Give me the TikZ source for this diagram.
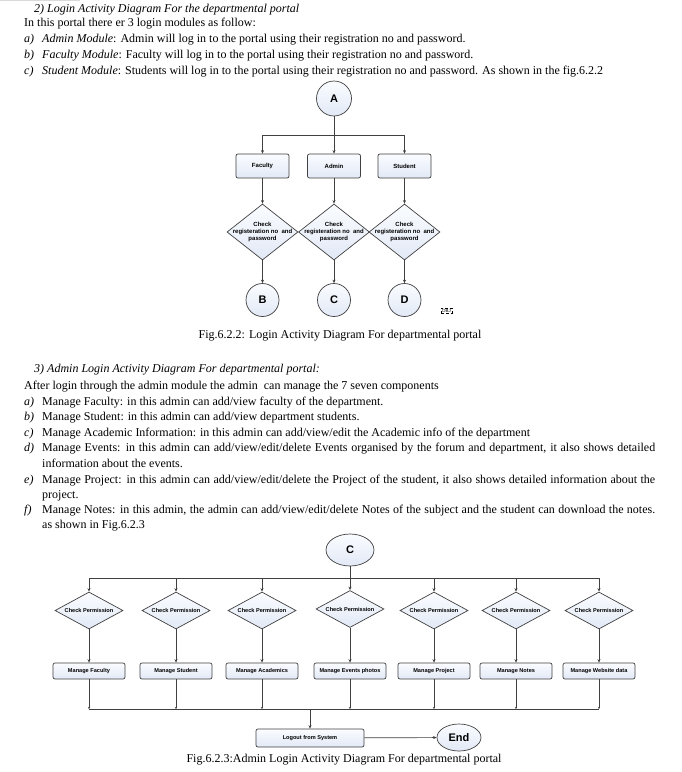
\documentclass[tikz,border=0pt]{standalone}
\usepackage{fontspec}
\setmainfont{Liberation Serif}
\newfontfamily\diafont{Liberation Sans}
\usetikzlibrary{shapes.geometric,arrows.meta}
\definecolor{lineC}{HTML}{404040}
\definecolor{fillC}{HTML}{E2E9F6}
\definecolor{fillT}{HTML}{FAFCFF}
\begin{document}
\begin{tikzpicture}[x=1pt,y=-1pt,
  txt/.style={anchor=base west, inner sep=0, font=\fontsize{12}{14}\selectfont},
  figcap/.style={anchor=base, inner sep=0, font=\fontsize{12}{14}\selectfont},
  conn/.style={draw=lineC, line width=0.7pt, -{Stealth[length=3.5pt,width=3pt]}},
  tconn/.style={draw=lineC, line width=0.7pt, -{Stealth[length=2pt,width=2pt]}},
  plain/.style={draw=lineC, line width=0.7pt},
  shade/.style={draw=lineC, line width=0.7pt, top color=fillT, bottom color=fillC},
  rbox/.style={shade, rounded corners=2pt, inner sep=0, align=center,
    font=\diafont\bfseries\fontsize{6}{7}\selectfont},
  circ/.style={shade, circle, minimum size=35pt, inner sep=0,
    font=\diafont\bfseries\fontsize{11}{12}\selectfont},
  ell/.style={shade, ellipse, inner sep=0,
    font=\diafont\bfseries\fontsize{11}{12}\selectfont},
  diabig/.style={shade, diamond, minimum width=71pt, minimum height=56pt, inner sep=0},
  diasmall/.style={shade, diamond, minimum width=68pt, minimum height=37pt, inner sep=0},
  dlab/.style={inner sep=0, align=center, font=\diafont\bfseries\fontsize{6}{7}\selectfont},
  slab/.style={inner sep=0, align=center, font=\diafont\bfseries\fontsize{5.6}{7}\selectfont}
]
\useasboundingbox[fill=white] (0,0) rectangle (682,772);
\draw[black!15, line width=0.8pt] (0,0.6) -- (80,0.6);

% ---------- first text block ----------
\node[txt] (t1n) at (34,12) {\textit{2)}};
\node[txt] (t1) at (47,12) {\textit{Login Activity Diagram For the departmental portal}};
\node[txt] (t2) at (24,26) {In this portal there er 3 login modules as follow:};
\node[txt] (t3n) at (24,42) {\textit{a)}};
\node[txt] (t3) at (42,42) {\textit{Admin Module}: Admin will log in to the portal using their registration no and password.};
\node[txt] (t4n) at (24,58) {\textit{b)}};
\node[txt] (t4) at (42,58) {\textit{Faculty Module}: Faculty will log in to the portal using their registration no and password.};
\node[txt] (t5n) at (24,74) {\textit{c)}};
\node[txt] (t5) at (42,74) {\textit{Student Module}: Students will log in to the portal using their registration no and password. As shown in the fig.6.2.2};

% ---------- first diagram ----------
\node[circ] (A) at (334,98.5) {A};
\coordinate (jA) at (334,135);
\node[rbox, minimum width=53pt, minimum height=24pt] (fac) at (262.5,166) {Faculty};
\node[rbox, minimum width=53pt, minimum height=24pt] (adm) at (334,166) {Admin};
\node[rbox, minimum width=53pt, minimum height=24pt] (stu) at (404.5,166) {Student};
\draw[conn] (A) -- (adm);
\draw[conn] (jA) -| (fac);
\draw[conn] (jA) -| (stu);
\node[diabig, label={[dlab]center:{Check\\registeration no\ \ and\\password}}] (d1) at (262.5,232) {};
\node[diabig, label={[dlab]center:{Check\\registeration no\ \ and\\password}}] (d2) at (334,232) {};
\node[diabig, label={[dlab]center:{Check\\registeration no\ \ and\\password}}] (d3) at (404.5,232) {};
\draw[conn] (fac) -- (d1);
\draw[conn] (adm) -- (d2);
\draw[conn] (stu) -- (d3);
\node[circ, minimum size=33pt] (B) at (262.5,300) {B};
\node[circ, minimum size=33pt] (Cc) at (334,300) {C};
\node[circ, minimum size=33pt] (D) at (404.5,300) {D};
\draw[conn] (d1) -- (B);
\draw[conn] (d2) -- (Cc);
\draw[conn] (d3) -- (D);
\node[draw=black, densely dashed, line width=0.3pt, inner xsep=1.2pt, inner ysep=0.8pt,
  font=\diafont\fontsize{4.5}{5}\selectfont] (obj) at (446.5,310.5) {OBJ};
\node[figcap] (cap1) at (340,338) {Fig.6.2.2: Login Activity Diagram For departmental portal};

% ---------- second text block ----------
\node[txt] (s0n) at (34,372) {\textit{3)}};
\node[txt] (s0) at (47,372) {\textit{Admin Login Activity Diagram For departmental portal:}};
\node[txt] (s1) at (24,389) {After login through the admin module the admin\ \ can manage the 7 seven components};
\node[txt] (s2n) at (24,405) {\textit{a)}};
\node[txt] (s2) at (42,405) {Manage Faculty: in this admin can add/view faculty of the department.};
\node[txt] (s3n) at (24,420) {\textit{b)}};
\node[txt] (s3) at (42,420) {Manage Student: in this admin can add/view department students.};
\node[txt] (s4n) at (24,436) {\textit{c)}};
\node[txt] (s4) at (42,436) {Manage Academic Information: in this admin can add/view/edit the Academic info of the department};
\node[txt] (s5n) at (24,451) {\textit{d)}};
\node[txt] (s5) at (42,451) {\hbox to 613pt{Manage Events: in this admin can add/view/edit/delete Events organised by the forum and department, it also shows detailed}};
\node[txt] (s5b) at (42,467) {information about the events.};
\node[txt] (s6n) at (24,483) {\textit{e)}};
\node[txt] (s6) at (42,483) {\hbox to 613pt{Manage Project: in this admin can add/view/edit/delete the Project of the student, it also shows detailed information about the}};
\node[txt] (s6b) at (42,498) {project.};
\node[txt] (s7n) at (24,513) {\textit{f)}};
\node[txt] (s7) at (42,513) {\hbox to 613pt{Manage Notes: in this admin, the admin can add/view/edit/delete Notes of the subject and the student can download the notes.}};
\node[txt] (s7b) at (42,528) {as shown in Fig.6.2.3};

% ---------- second diagram ----------
\node[ell, minimum width=48pt, minimum height=32pt] (C2) at (350,550) {C};
\coordinate (jC) at (350,578);
\foreach \i/\x/\y in {1/89/610.5,2/176/610.5,3/262/610.5,4/350/609,5/434/610.5,6/516/610.5,7/599/610.5}{
  \node[diasmall, label={[slab]center:{Check Permission}}] (p\i) at (\x,\y) {};
}
\draw[conn] (C2) -- (p4);
\foreach \i in {1,2,3,5,6,7}{ \draw[conn] (jC) -| (p\i); }
\foreach \i/\x/\t in {1/89/Manage Faculty,2/176/Manage Student,3/262/Manage Academics,4/350/Manage Events photos,5/434/Manage Project,6/516/Manage Notes,7/599/Manage Website data}{
  \node[rbox, minimum width=72pt, minimum height=16pt, font=\diafont\bfseries\fontsize{5.6}{7}\selectfont] (m\i) at (\x,671) {\t};
  \coordinate (mm\i) at (\x,709);
  \draw[conn] (p\i) -- (m\i);
  \draw[tconn] (m\i) -- (mm\i);
}
\draw[plain] (mm1) -- (mm7);
\coordinate (mj) at (310,709);
\node[rbox, minimum width=108pt, minimum height=18pt, font=\diafont\bfseries\fontsize{5.6}{7}\selectfont] (lo) at (310,738) {Logout from System};
\draw[conn] (mj) -- (lo);
\node[ell, minimum width=44pt, minimum height=27pt] (end) at (459,737.5) {End};
\draw[conn] (lo) -- (end);
\node[figcap] (cap2) at (344,762) {Fig.6.2.3:Admin Login Activity Diagram For departmental portal};
\end{tikzpicture}
\end{document}
